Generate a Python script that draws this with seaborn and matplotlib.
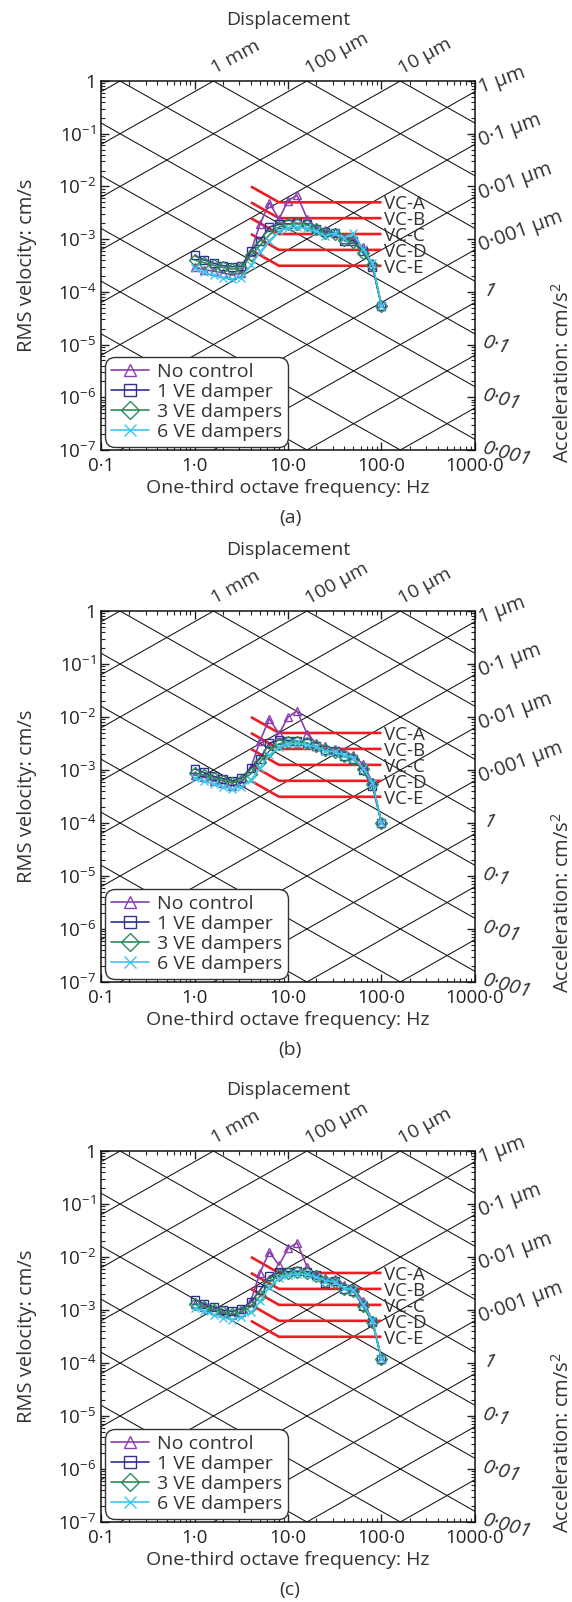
import numpy as np
import pandas as pd
import matplotlib
matplotlib.use("Agg")
import matplotlib.pyplot as plt
import seaborn as sns
from matplotlib.ticker import FixedLocator, FixedFormatter, LogLocator, NullFormatter

sns.set_theme(style="ticks")
plt.rcParams["font.family"] = ["Open Sans", "DejaVu Sans"]
plt.rcParams["mathtext.fontset"] = "custom"
plt.rcParams["mathtext.rm"] = "Open Sans"
plt.rcParams["mathtext.it"] = "Open Sans:italic"
plt.rcParams["mathtext.bf"] = "Open Sans:bold"
TEXT = "#333333"
plt.rcParams["text.color"] = TEXT
plt.rcParams["axes.labelcolor"] = TEXT
plt.rcParams["xtick.color"] = "#222222"
plt.rcParams["ytick.color"] = "#222222"

# ---- data -------------------------------------------------------------
freq_hz = [1.0, 1.25, 1.6, 2.0, 2.5, 3.15, 4.0, 5.0, 6.3, 8.0, 10.0, 12.5,
           16.0, 20.0, 25.0, 31.5, 40.0, 50.0, 63.0, 80.0, 100.0]

case_labels = ["No control", "1 VE damper", "3 VE dampers", "6 VE dampers"]
case_colors = ["#8b3fae", "#2e3192", "#2e8b57", "#3cc6f0"]
case_markers = ["^", "s", "D", "x"]

# RMS velocity, cm/s
a_no_control = [3.0e-4, 2.65e-4, 2.45e-4, 2.3e-4, 2.1e-4, 2.3e-4, 5.8e-4, 1.9e-3, 4.9e-3, 2.4e-3,
                5.4e-3, 6.8e-3, 2.45e-3, 1.64e-3, 1.46e-3, 1.36e-3, 1.02e-3, 1.0e-3, 7.2e-4, 3.3e-4, 5.5e-5]
a_one_ve = [4.9e-4, 4.05e-4, 3.5e-4, 3.15e-4, 3.0e-4, 3.05e-4, 5.9e-4, 9.4e-4, 1.7e-3, 1.9e-3,
            1.95e-3, 2.0e-3, 1.9e-3, 1.58e-3, 1.36e-3, 1.3e-3, 9.4e-4, 9.4e-4, 5.9e-4, 3.0e-4, 5.5e-5]
a_three_ve = [4.0e-4, 3.6e-4, 3.2e-4, 2.9e-4, 2.7e-4, 2.8e-4, 4.9e-4, 7.6e-4, 1.2e-3, 1.7e-3,
              1.9e-3, 1.95e-3, 1.85e-3, 1.55e-3, 1.3e-3, 1.25e-3, 9.5e-4, 8.7e-4, 5.5e-4, 3.2e-4, 5.5e-5]
a_six_ve = [2.8e-4, 2.35e-4, 2.05e-4, 1.85e-4, 1.75e-4, 1.85e-4, 3.2e-4, 5.6e-4, 9.4e-4, 1.4e-3,
            1.65e-3, 1.7e-3, 1.6e-3, 1.4e-3, 1.15e-3, 1.3e-3, 1.05e-3, 1.28e-3, 6.5e-4, 3.5e-4, 5.5e-5]

b_no_control = [8.0e-4, 7.3e-4, 6.3e-4, 5.6e-4, 5.0e-4, 5.6e-4, 1.1e-3, 3.5e-3, 9.3e-3, 4.8e-3,
                1.0e-2, 1.3e-2, 4.8e-3, 3.2e-3, 2.8e-3, 2.5e-3, 2.2e-3, 1.9e-3, 1.3e-3, 6.0e-4, 1.0e-4]
b_one_ve = [1.05e-3, 9.0e-4, 7.6e-4, 6.9e-4, 6.2e-4, 7.0e-4, 1.1e-3, 1.64e-3, 3.2e-3, 3.7e-3,
            3.6e-3, 3.5e-3, 3.2e-3, 2.8e-3, 2.4e-3, 2.25e-3, 1.8e-3, 1.64e-3, 1.0e-3, 5.0e-4, 1.0e-4]
b_three_ve = [8.8e-4, 8.0e-4, 7.0e-4, 6.3e-4, 5.7e-4, 6.3e-4, 8.5e-4, 1.4e-3, 2.3e-3, 3.1e-3,
              3.4e-3, 3.4e-3, 3.2e-3, 2.8e-3, 2.4e-3, 2.2e-3, 1.8e-3, 1.6e-3, 1.05e-3, 5.5e-4, 1.0e-4]
b_six_ve = [7.0e-4, 6.2e-4, 5.4e-4, 4.8e-4, 4.3e-4, 4.8e-4, 6.5e-4, 1.1e-3, 1.9e-3, 2.7e-3,
            3.1e-3, 3.2e-3, 3.0e-3, 2.7e-3, 2.3e-3, 2.2e-3, 1.9e-3, 1.7e-3, 1.1e-3, 5.8e-4, 1.0e-4]

c_no_control = [1.3e-3, 1.15e-3, 1.0e-3, 8.8e-4, 8.0e-4, 9.0e-4, 1.5e-3, 5.0e-3, 1.25e-2, 7.0e-3,
                1.45e-2, 1.85e-2, 6.5e-3, 4.7e-3, 4.0e-3, 3.8e-3, 3.0e-3, 2.6e-3, 1.5e-3, 6.5e-4, 1.2e-4]
c_one_ve = [1.57e-3, 1.32e-3, 1.14e-3, 9.9e-4, 9.4e-4, 1.05e-3, 1.4e-3, 2.35e-3, 4.3e-3, 5.2e-3,
            5.3e-3, 5.4e-3, 5.3e-3, 4.5e-3, 3.3e-3, 3.5e-3, 2.5e-3, 2.3e-3, 1.2e-3, 6.0e-4, 1.2e-4]
c_three_ve = [1.3e-3, 1.15e-3, 1.0e-3, 9.0e-4, 8.3e-4, 9.2e-4, 1.15e-3, 1.8e-3, 3.3e-3, 4.6e-3,
              5.0e-3, 5.1e-3, 5.0e-3, 4.3e-3, 3.5e-3, 3.4e-3, 2.5e-3, 2.3e-3, 1.2e-3, 6.0e-4, 1.2e-4]
c_six_ve = [1.1e-3, 9.5e-4, 8.2e-4, 7.2e-4, 6.6e-4, 7.3e-4, 9.0e-4, 1.45e-3, 2.7e-3, 4.0e-3,
            4.6e-3, 4.8e-3, 4.7e-3, 4.2e-3, 3.6e-3, 3.4e-3, 2.6e-3, 2.4e-3, 1.3e-3, 6.5e-4, 1.2e-4]

# vibration criterion curves: constant acceleration 4-8 Hz, constant velocity 8-100 Hz
vc_names = ["VC-A", "VC-B", "VC-C", "VC-D", "VC-E"]
vc_levels = [5.0e-3, 2.5e-3, 1.25e-3, 6.25e-4, 3.125e-4]
vc_corner_freqs = [4.0, 8.0, 100.0]

x_tick_values = [0.1, 1.0, 10.0, 100.0, 1000.0]
x_tick_labels = ["0·1", "1·0", "10·0", "100·0", "1000·0"]
y_tick_values = [1e-7, 1e-6, 1e-5, 1e-4, 1e-3, 1e-2, 1e-1, 1.0]
y_tick_labels = [r"$10^{-7}$", r"$10^{-6}$", r"$10^{-5}$", r"$10^{-4}$",
                 r"$10^{-3}$", r"$10^{-2}$", r"$10^{-1}$", "1"]

# displacement isolines (cm) labelled at the top and right edges
top_disp_cm = [0.1, 0.01, 0.001]
top_disp_labels = ["1 mm", "100 µm", "10 µm"]
right_disp_cm = [1e-4, 1e-5, 1e-6, 1e-7]
right_disp_labels = ["1 µm", "0·1 µm", "0·01 µm", "0·001 µm"]
# acceleration isolines (cm/s^2) labelled on the right edge
accel_values = [1.0, 0.1, 0.01, 0.001]
accel_labels = ["1", "0·1", "0·01", "0·001"]

panel_tags = ["(a)", "(b)", "(c)"]
panel_series = [
    [a_no_control, a_one_ve, a_three_ve, a_six_ve],
    [b_no_control, b_one_ve, b_three_ve, b_six_ve],
    [c_no_control, c_one_ve, c_three_ve, c_six_ve],
]

# ---- layout (pixels) --------------------------------------------------
W, H, DPI = 572, 1602, 100
PT = 72.0 / DPI
AX_L, AX_R = 101.2, 474.9
panel_rows = [(81.0, 450.0), (611.0, 982.0), (1151.0, 1522.0)]
FS_TICK = 13.5
FS_LABEL = 14
FS_LEG = 14
FS_VC = 13.5
FS_TOP = 14
FS_RIGHT = 14.5

fig = plt.figure(figsize=(W / DPI, H / DPI), dpi=DPI)
fig.patch.set_facecolor("white")

f_span = np.array([0.1, 1000.0])

for tag, (top, bot), series in zip(panel_tags, panel_rows, panel_series):
    ax_w, ax_h = AX_R - AX_L, bot - top
    ax = fig.add_axes([AX_L / W, 1 - bot / H, ax_w / W, ax_h / H])
    ax.set_xscale("log")
    ax.set_yscale("log")

    # angle of unit-slope lines on screen
    ang = np.degrees(np.arctan((ax_h / 7.0) / (ax_w / 4.0)))

    # tripartite grid
    for k in range(-12, 3):
        d = 10.0 ** k
        ax.plot(f_span, 2 * np.pi * f_span * d, color="#111111", lw=0.75, zorder=1)
    for k in range(-5, 9):
        acc = 10.0 ** k
        ax.plot(f_span, acc / (2 * np.pi * f_span), color="#111111", lw=0.75, zorder=1)

    # VC criterion curves
    for name, lev in zip(vc_names, vc_levels):
        ax.plot(vc_corner_freqs, [2 * lev, lev, lev], color="#ee1c25", lw=1.9,
                solid_capstyle="butt", zorder=2)
        ax.annotate(name, xy=(vc_corner_freqs[-1], lev), xytext=(3 * PT, 0),
                    textcoords="offset points", ha="left", va="center_baseline",
                    fontsize=FS_VC, color=TEXT, annotation_clip=False)

    # measured spectra
    handles = []
    for lab, vals, col, mk in zip(case_labels, series, case_colors, case_markers):
        df = pd.DataFrame({"freq": freq_hz, "velocity": vals})
        n0 = len(ax.lines)
        sns.lineplot(data=df, x="freq", y="velocity", color=col, marker=mk,
                     estimator=None, sort=False, ax=ax, lw=1.2, markersize=6,
                     markerfacecolor="none", markeredgecolor=col,
                     markeredgewidth=1.0, zorder=3)
        handles.append(ax.lines[n0])

    ax.set_xlim(0.1, 1000)
    ax.set_ylim(1e-7, 1)

    leg = ax.legend(handles=handles, labels=case_labels, loc="lower left",
                    bbox_to_anchor=(4.0 / ax_w, 3.3 / ax_h),
                    borderaxespad=0, fontsize=FS_LEG, frameon=True, fancybox=True,
                    framealpha=1, edgecolor="#333333", handlelength=1.95,
                    handletextpad=0.4, labelspacing=0.1, borderpad=0.3,
                    markerscale=1.45)
    leg.get_frame().set_linewidth(1.0)
    leg.get_frame().set_boxstyle("round,pad=0,rounding_size=0.5")
    leg.set_zorder(5)

    # ticks
    ax.xaxis.set_major_locator(FixedLocator(x_tick_values))
    ax.xaxis.set_major_formatter(FixedFormatter(x_tick_labels))
    ax.yaxis.set_major_locator(FixedLocator(y_tick_values))
    ax.yaxis.set_major_formatter(FixedFormatter(y_tick_labels))
    ax.xaxis.set_minor_locator(LogLocator(base=10, subs=np.arange(2, 10), numticks=30))
    ax.yaxis.set_minor_locator(LogLocator(base=10, subs=np.arange(2, 10), numticks=30))
    ax.xaxis.set_minor_formatter(NullFormatter())
    ax.yaxis.set_minor_formatter(NullFormatter())
    ax.tick_params(which="both", direction="in", top=True, right=True, labelsize=FS_TICK)
    ax.tick_params(which="major", length=6, width=1.0)
    ax.tick_params(which="minor", length=3, width=0.8)
    ax.tick_params(axis="x", pad=5)
    ax.tick_params(axis="y", pad=3.5)
    for sp in ax.spines.values():
        sp.set_linewidth(1.1)
        sp.set_color("#111111")

    ax.set_xlabel("One-third octave frequency: Hz", fontsize=FS_LABEL)
    ax.xaxis.set_label_coords(0.5, -29.0 / ax_h)
    ax.set_ylabel("RMS velocity: cm/s", fontsize=14.5)
    ax.yaxis.set_label_coords((37 - AX_L) / ax_w, 0.5)

    # isoline labels
    for d, lab in zip(top_disp_cm, top_disp_labels):
        ax.annotate(lab, xy=(1.0 / (2 * np.pi * d), 1.0), xytext=(2 * PT, 7 * PT),
                    textcoords="offset points", rotation=ang - 1, rotation_mode="anchor",
                    ha="left", va="baseline", fontsize=FS_TOP, annotation_clip=False)
    for d, lab in zip(right_disp_cm, right_disp_labels):
        ax.annotate(lab, xy=(1000.0, 2 * np.pi * 1000.0 * d), xytext=(6 * PT, -2 * PT),
                    textcoords="offset points", rotation=20, rotation_mode="anchor",
                    ha="left", va="baseline", fontsize=FS_RIGHT, annotation_clip=False)
    for acc, lab in zip(accel_values, accel_labels):
        ax.annotate(lab, xy=(1000.0, acc / (2 * np.pi * 1000.0)), xytext=(11 * PT, 1 * PT),
                    textcoords="offset points", rotation=-15, rotation_mode="anchor",
                    ha="left", va="top", fontsize=FS_RIGHT, style="italic",
                    annotation_clip=False)

    # panel texts
    fig.text(288.5 / W, 1 - (top - 61) / H, "Displacement", ha="center", va="center",
             fontsize=FS_LABEL)
    fig.text(563 / W, 1 - (top + 291) / H, "Acceleration: cm/s$^2$", rotation=90,
             ha="center", va="center", fontsize=14.5)
    fig.text(290 / W, 1 - (bot + 68.5) / H, tag, ha="center", va="center",
             fontsize=FS_LABEL)

fig.savefig("out.png", dpi=DPI, facecolor="white")
